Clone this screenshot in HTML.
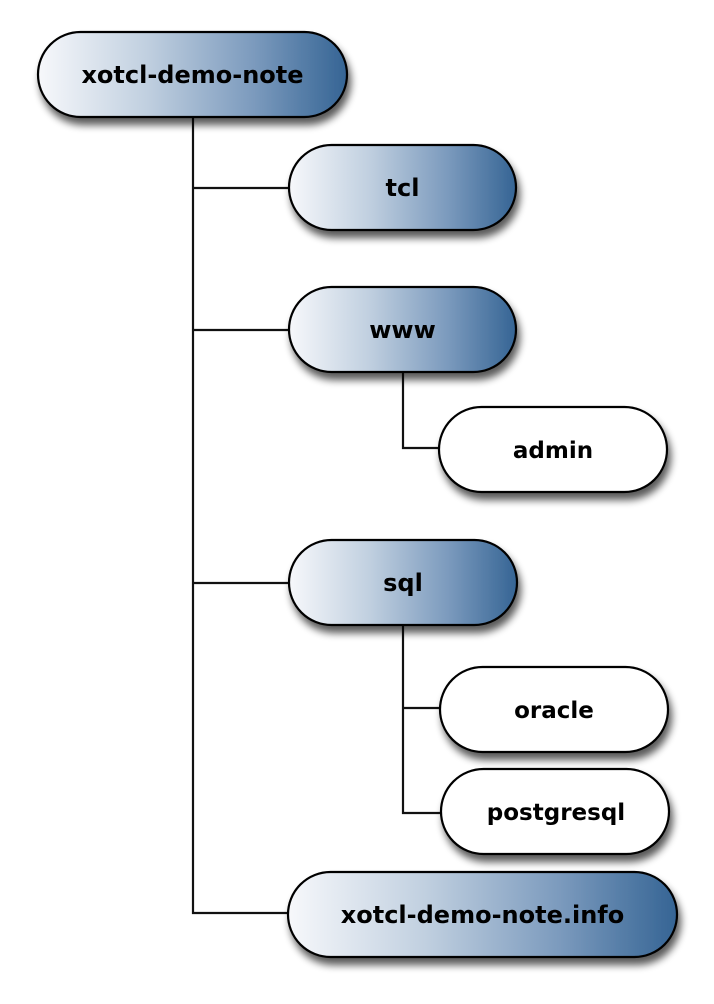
<!DOCTYPE html>
<html><head><meta charset="utf-8"><style>
html,body{margin:0;padding:0;background:#fff;}
svg{display:block;}
text{font-family:"DejaVu Sans","Liberation Sans",sans-serif;font-weight:bold;font-size:24px;fill:#000;}
</style></head><body>
<svg width="714" height="1004" viewBox="0 0 714 1004" xmlns="http://www.w3.org/2000/svg">
<defs>
<linearGradient id="g" x1="0" y1="0" x2="1" y2="0">
<stop offset="0" stop-color="#f7f8fb"/>
<stop offset="0.35" stop-color="#c1d0e0"/>
<stop offset="0.7" stop-color="#7b9abd"/>
<stop offset="1" stop-color="#356494"/>
</linearGradient>
<filter id="s" x="-20%" y="-30%" width="140%" height="170%">
<feGaussianBlur in="SourceAlpha" stdDeviation="4"/>
<feOffset dx="3" dy="7" result="b"/>
<feComponentTransfer><feFuncA type="linear" slope="0.65"/></feComponentTransfer>
<feMerge><feMergeNode/><feMergeNode in="SourceGraphic"/></feMerge>
</filter>
</defs>
<g stroke="#111" stroke-width="2.2" fill="none">
<path d="M193 117 V913 H289"/>
<path d="M193 188 H289"/>
<path d="M193 330 H289"/>
<path d="M193 583 H289"/>
<path d="M403 372 V448 H439"/>
<path d="M403 625 V813 H441"/>
<path d="M403 708 H440"/>
</g>
<g stroke="#000" stroke-width="2.2" filter="url(#s)">
<rect x="38" y="32" width="309" height="85" rx="42.5" fill="url(#g)"/>
<rect x="289" y="145" width="227" height="85" rx="42.5" fill="url(#g)"/>
<rect x="289" y="287" width="227" height="85" rx="42.5" fill="url(#g)"/>
<rect x="439" y="407" width="228" height="85" rx="42.5" fill="#fff"/>
<rect x="289" y="540" width="228" height="85" rx="42.5" fill="url(#g)"/>
<rect x="440" y="667" width="228" height="85" rx="42.5" fill="#fff"/>
<rect x="441" y="769" width="228" height="85" rx="42.5" fill="#fff"/>
<rect x="288" y="872" width="389" height="85" rx="42.5" fill="url(#g)"/>
</g>
<g text-anchor="middle">
<text x="192.5" y="83">xotcl-demo-note</text>
<text x="402.5" y="196">tcl</text>
<text x="402.5" y="338">www</text>
<text x="553" y="458" style="font-size:23px">admin</text>
<text x="403" y="591">sql</text>
<text x="554" y="718" style="font-size:23px">oracle</text>
<text x="556" y="820" style="font-size:23px">postgresql</text>
<text x="482.5" y="923">xotcl-demo-note.info</text>
</g>
</svg>
</body></html>
